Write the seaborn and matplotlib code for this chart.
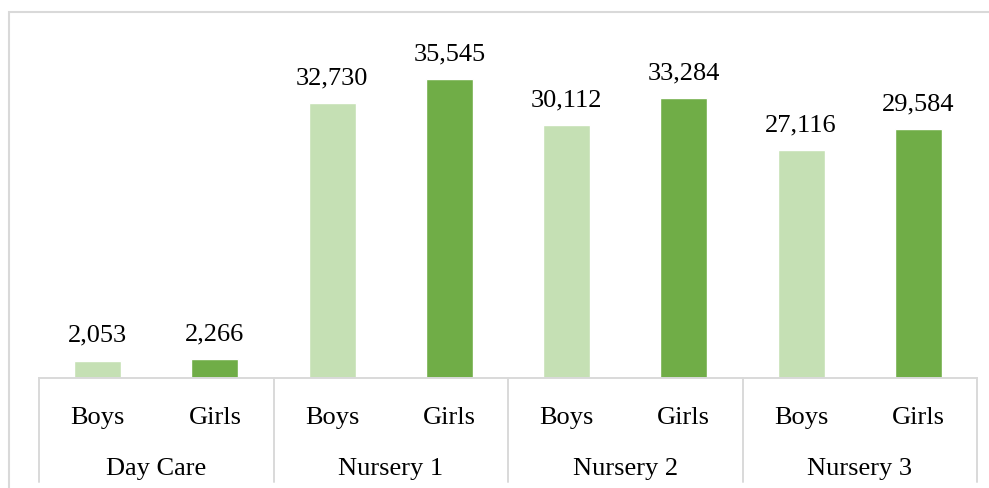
import numpy as np
import matplotlib
matplotlib.use('Agg')
import matplotlib.pyplot as plt
import matplotlib.transforms as mtransforms
from matplotlib.patches import Rectangle
import pandas as pd
import seaborn as sns

# data
groups = ['Day Care', 'Nursery 1', 'Nursery 2', 'Nursery 3']
genders = ['Boys', 'Girls']
boys = [2053, 32730, 30112, 27116]
girls = [2266, 35545, 33284, 29584]
colors = {'Boys': '#C5E0B4', 'Girls': '#70AD47'}

rows = []
for g, b, gi in zip(groups, boys, girls):
    rows.append({'group': g, 'gender': 'Boys', 'value': b})
    rows.append({'group': g, 'gender': 'Girls', 'value': gi})
df = pd.DataFrame(rows)
df['slot'] = df['group'] + '|' + df['gender']
order = list(df['slot'])

sns.set_style('white')
plt.rcParams['font.family'] = ['Liberation Serif', 'DejaVu Serif']
plt.rcParams['text.color'] = 'black'
plt.rcParams['xtick.color'] = 'black'

W, H = 989, 488
fig = plt.figure(figsize=(W / 100, H / 100), dpi=100)
ax = fig.add_axes([39 / W, (H - 378) / H, (977 - 39) / W, (378 - 42) / H])

sns.barplot(data=df, x='slot', y='value', hue='gender', order=order,
            palette=colors, dodge=False, width=0.4, ax=ax, legend=False,
            saturation=1)

ax.set_ylim(0, 40000)
ax.set_xlim(-0.5, len(order) - 0.5)
for s in ['top', 'right', 'left']:
    ax.spines[s].set_visible(False)
ax.spines['bottom'].set_color('#d9d9d9')
ax.spines['bottom'].set_linewidth(1.4)
ax.set_yticks([])
ax.set_xlabel('')
ax.set_ylabel('')
ax.set_xticks(range(len(order)))
ax.set_xticklabels(list(df['gender']), fontsize=19, color='black')
ax.tick_params(axis='x', length=0, pad=21)

# value labels
for cont in ax.containers:
    ax.bar_label(cont, labels=[f'{v:,.0f}' for v in cont.datavalues],
                 padding=10, fontsize=19, color='black')

# group labels and separators below the axis
trans = mtransforms.blended_transform_factory(ax.transData, ax.transAxes)
n = len(genders)
for i, g in enumerate(groups):
    ax.text(i * n + (n - 1) / 2, -0.27, g, transform=trans,
            ha='center', va='center', fontsize=19, color='black')
for i in range(len(groups) + 1):
    ax.plot([i * n - 0.5, i * n - 0.5], [0, -0.31], transform=trans,
            color='#d9d9d9', lw=1.4, clip_on=False)

# chart area border (cut off at right and bottom)
fig.patches.append(Rectangle((9 / W, -0.2), 1.2, 1.2 - 12 / H,
                             transform=fig.transFigure, fill=False,
                             edgecolor='#d9d9d9', lw=1.5))

fig.savefig('out.png', dpi=100)
